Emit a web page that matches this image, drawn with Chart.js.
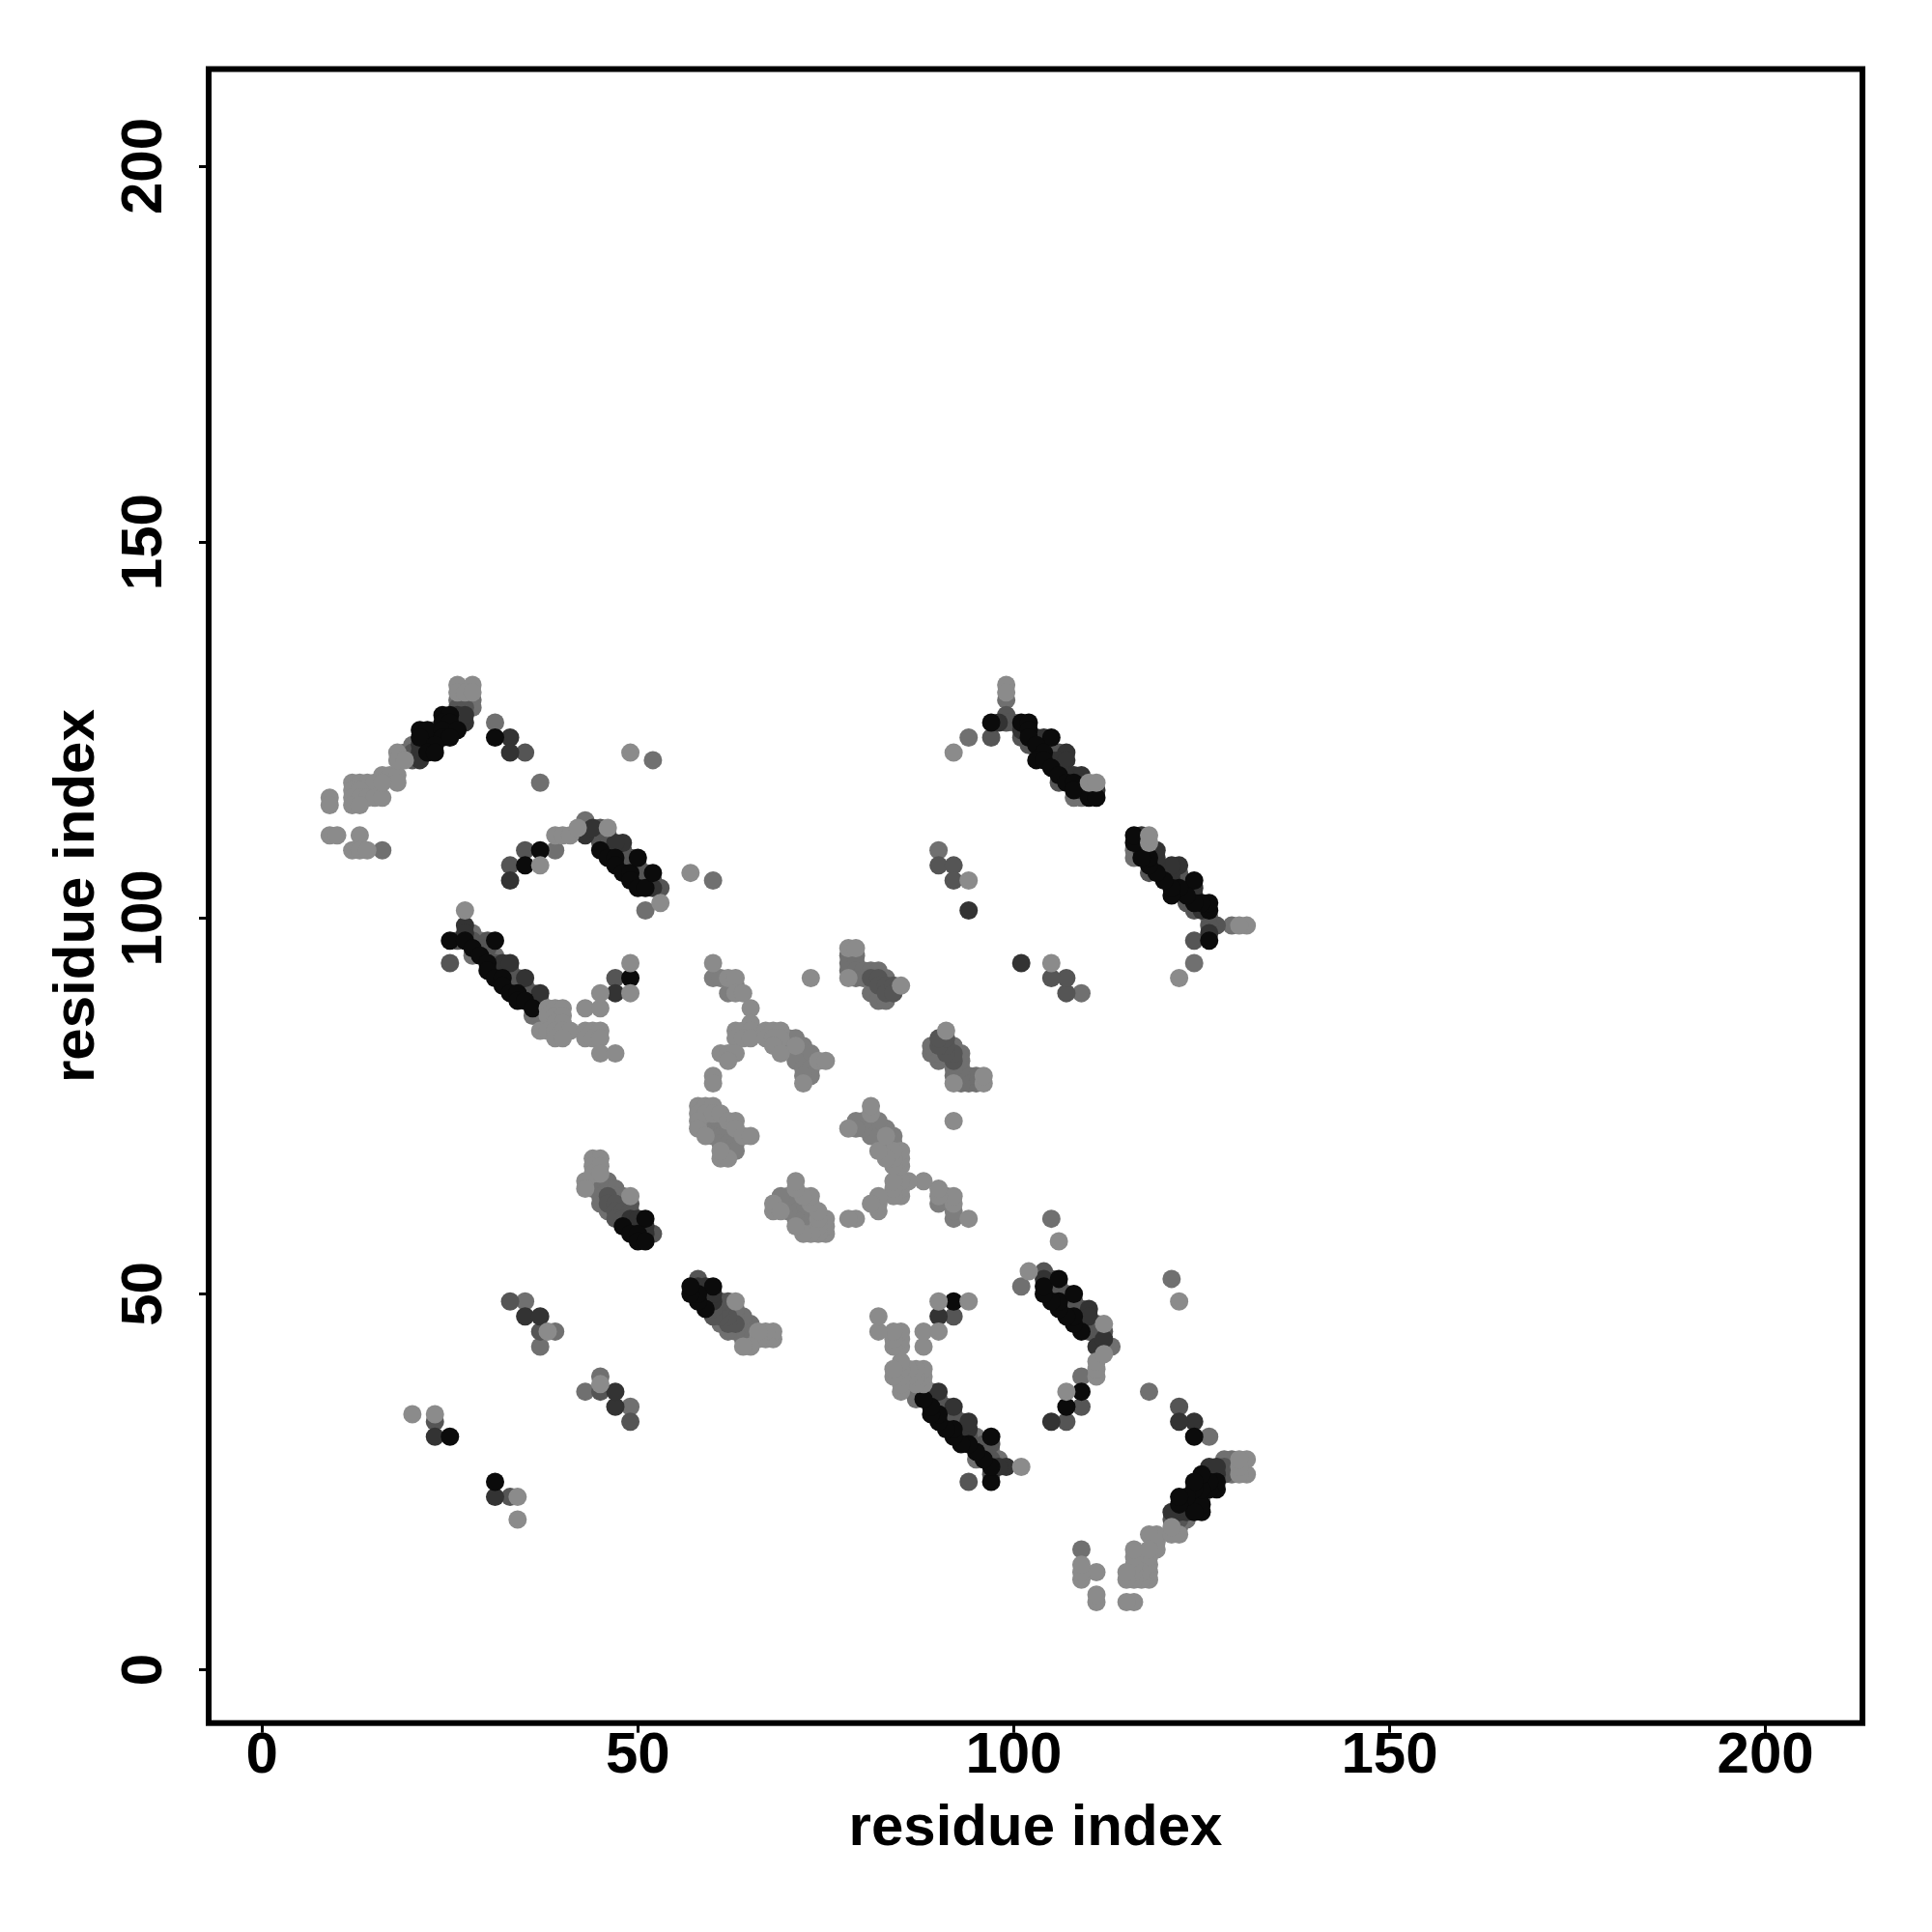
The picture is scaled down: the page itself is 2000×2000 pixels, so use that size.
<!DOCTYPE html>
<html>
<head>
<meta charset="utf-8">
<style>html,body{margin:0;padding:0;background:#fff}canvas{display:block}</style>
<script src="https://cdn.jsdelivr.net/npm/chart.js@4"></script>
</head>
<body>
<canvas id="c" width="2000" height="2000"></canvas>
<script>
const tickValues = [0, 50, 100, 150, 200];
const axisTitle = "residue index";

// contact pairs [i, j] with i < j; the map is symmetric so each is also drawn as [j, i]
const blackContacts = [
 [24,127],[25,127],[24,126],[25,126],[21,125],[22,125],[24,125],[26,125],[21,124],[24,124],[25,124],[23,123],[22,122],[23,122],
 [31,124],[37,109],[35,107],[25,31],[49,92],[25,97],[31,97],[27,97],[28,96],[29,95],[30,94],[30,93],[31,92],[32,92],[32,91],[33,90],[34,90],[34,89],[35,89],[36,88],
 [45,109],[46,108],[47,108],[47,107],[48,106],[49,106],[49,105],[50,104],[51,104],[50,108],[52,106],
 [97,126],[101,126],[102,126],[102,125],[102,124],[105,124],[103,123],[104,122],[103,121],[104,121],[105,120],[106,119],[107,118],[108,118],[108,117],[110,116],[111,116],
 [51,60],[48,59],[49,58],[50,58],[50,57],[51,57]
];
const darkContacts = [
 [26,126],[27,126],[26,127],[27,127],[22,124],[25,125],[22,123],[21,123],[21,122],[21,121],[33,124],[33,122],[33,105],[47,90],[23,31],[35,47],[37,47],[94,101],
 [43,111],[44,112],[48,110],[47,110],[52,104],[27,99],[27,98],[32,94],[33,94],[35,92],[37,90],
 [98,126],[104,124],[103,124],[101,125],[107,122],[105,121],[106,121],[107,121],[107,119],[108,119],[109,119],[109,118],[109,117],[110,117],[111,117],
 [49,59],[50,59],[51,59],[51,58],[49,60],[50,60]
];
const midDarkContacts = [
 [26,128],[27,128],[20,122],[20,121],[35,122],[33,107],[35,109],[25,94],[47,92],[23,33],[33,49],[37,45],[90,107],[92,107],[92,105],[97,124],
 [45,110],[46,110],[46,111],[45,112],[47,109],[48,109],[49,108],[49,107],[50,107],[50,106],[51,106],[51,105],[52,105],[53,104],
 [26,97],[28,97],[30,97],[29,96],[30,96],[31,94],[32,93],[33,93],[34,92],[34,91],[35,91],[36,90],[36,89],
 [99,127],[99,126],[101,124],[102,123],[105,122],[106,122],[106,118],[46,63],[46,62],[47,62],[47,61],[48,61],[49,62],[49,61],[47,60],[48,60],[52,58],
 [81,92],[82,92],[82,91],[83,91],[83,90],[84,91],[84,90]
];
const midContacts = [
 [16,109],[19,122],[20,123],[23,125],[23,124],[26,129],[27,129],[28,129],[28,128],[31,126],[37,118],[52,121],[60,105],[51,101],[39,109],[43,113],[28,98],[29,97],[28,95],[31,95],
 [37,89],[37,88],[36,87],[37,87],[38,86],[37,43],[39,45],[35,49],[90,109],[94,124],[99,129],[100,126],[108,116],[109,116],
 [44,65],[45,65],[46,65],[44,64],[45,64],[46,64],[47,64],[45,63],[47,63],[48,63],[45,62],[48,62],[46,61],
 [78,95],[79,95],[78,94],[79,94],[78,93],[79,93],[79,92],[80,93],[81,93],[82,93],[83,92],[80,92],[81,90],[82,90],[82,89],[83,89]
];
const paleContacts = [
 [60,92],[61,92],[62,90],[63,91],[70,84],[70,83],[71,84],[71,82],[72,82],[72,83],[73,82],[71,81],[72,80],[73,80],[73,79],[72,79],
 [59,73],[60,73],[59,72],[60,72],[61,72],[60,71],[61,71],[62,71],[62,72],[61,70],[62,70],[62,69],[63,70],[63,69]
];
const lightContacts = [
 [9,116],[9,115],[9,111],[10,111],[13,111],[12,109],[13,109],[14,109],[12,118],[13,118],[14,118],[15,118],[12,117],[13,117],[12,116],[13,116],[14,116],[15,116],[16,116],[12,115],[13,115],
 [16,119],[17,119],[18,119],[18,118],[16,118],[18,122],[18,121],[19,121],[26,131],[28,131],[26,130],[27,130],[28,130],[49,122],
 [39,111],[40,111],[41,111],[42,112],[46,112],[37,107],[53,102],[57,106],[27,101],
 [38,88],[39,88],[40,88],[38,87],[39,87],[40,87],[39,86],[40,86],[37,85],[38,85],[39,85],[40,85],[41,85],[39,84],[40,84],[43,85],[44,85],[45,85],[43,84],[44,84],[45,84],[45,82],[47,82],[43,88],[45,88],[45,90],[49,94],[49,90],
 [20,34],[23,34],[38,45],[99,131],[99,130],[92,122],[94,105],[110,118],[111,118],
 [60,94],[62,92],[63,92],[63,90],[64,90],[65,88],[65,86],[63,85],[64,85],[65,85],[63,84],[64,84],[65,84],[61,82],[62,82],[63,82],[62,81],[60,79],[60,78],
 [67,85],[68,85],[69,85],[67,84],[68,84],[69,84],[68,83],[69,82],[71,83],[74,81],[75,81],[72,78],[73,92],
 [78,96],[79,96],[85,91],[78,92],
 [58,75],[59,75],[60,75],[58,74],[59,74],[58,73],[58,72],[59,71],[60,74],[61,74],[62,73],[63,73],[63,72],[64,71],[65,71],[61,68],[62,68],[61,69],
 [44,68],[45,68],[44,67],[45,67],[44,66],[45,66],[43,65],[43,64],[49,63]
];

const shades = ["#8b8b8b", "#0b0b0b", "#333333", "#555555", "#707070", "#7e7e7e"];
const tiers = [lightContacts, blackContacts, darkContacts, midDarkContacts, midContacts, paleContacts];

const mirrored = pairs => pairs.flatMap(([a, b]) => [{x: a, y: b}, {x: b, y: a}]);

function centerLabels(scale, fixed) {
  const original = scale._computeLabelItems;
  scale._computeLabelItems = function (area) {
    const items = original.call(this, area);
    items.forEach(item => {
      item.textOffset = 0;
      item.options.textAlign = "center";
      item.options.textBaseline = "middle";
      if (fixed.x !== undefined) item.options.translation[0] = fixed.x;
      if (fixed.y !== undefined) item.options.translation[1] = fixed.y;
    });
    return items;
  };
}

const frame = {
  id: "frame",
  afterDraw(chart) {
    const {ctx, chartArea: a} = chart;
    ctx.save();
    ctx.strokeStyle = "#000";
    ctx.lineWidth = 6;
    ctx.lineJoin = "miter";
    ctx.strokeRect(a.left, a.top, a.right - a.left, a.bottom - a.top);
    ctx.restore();
  }
};

const font = {family: "'Liberation Sans', Arial, sans-serif", weight: "bold", size: 60, lineHeight: 1};
const gridOpts = {drawOnChartArea: false, drawTicks: true, tickLength: 10, tickWidth: 3, tickColor: "#000"};

new Chart(document.getElementById("c"), {
  type: "scatter",
  data: {
    datasets: tiers.map((pairs, i) => ({
      data: mirrored(pairs),
      backgroundColor: shades[i],
      borderWidth: 0,
      pointRadius: 9.5,
      order: i
    }))
  },
  plugins: [frame],
  options: {
    responsive: false,
    animation: false,
    layout: {padding: {top: 71.5, right: 72, left: 0, bottom: 0}},
    plugins: {legend: {display: false}, tooltip: {enabled: false}, title: {display: false}},
    scales: {
      x: {
        type: "linear", min: -7.1, max: 212.9,
        afterBuildTicks: s => { s.ticks = tickValues.map(v => ({value: v})); },
        afterFit: s => { s.height = 216.3; centerLabels(s, {y: 1818}); },
        border: {display: false},
        grid: gridOpts,
        ticks: {color: "#000", font, maxRotation: 0, minRotation: 0, padding: 6, autoSkip: false},
        title: {display: true, text: axisTitle, color: "#000", font, padding: {top: 0, bottom: 77}}
      },
      y: {
        type: "linear", min: -7.08, max: 212.92,
        afterBuildTicks: s => { s.ticks = tickValues.map(v => ({value: v})); },
        afterFit: s => { s.width = 216; centerLabels(s, {x: 150}); },
        border: {display: false},
        grid: gridOpts,
        ticks: {color: "#000", font, minRotation: 90, maxRotation: 90, padding: 6, autoSkip: false},
        title: {display: true, text: axisTitle, color: "#000", font, padding: {top: 50, bottom: 0}}
      }
    }
  }
});
</script>
</body>
</html>
